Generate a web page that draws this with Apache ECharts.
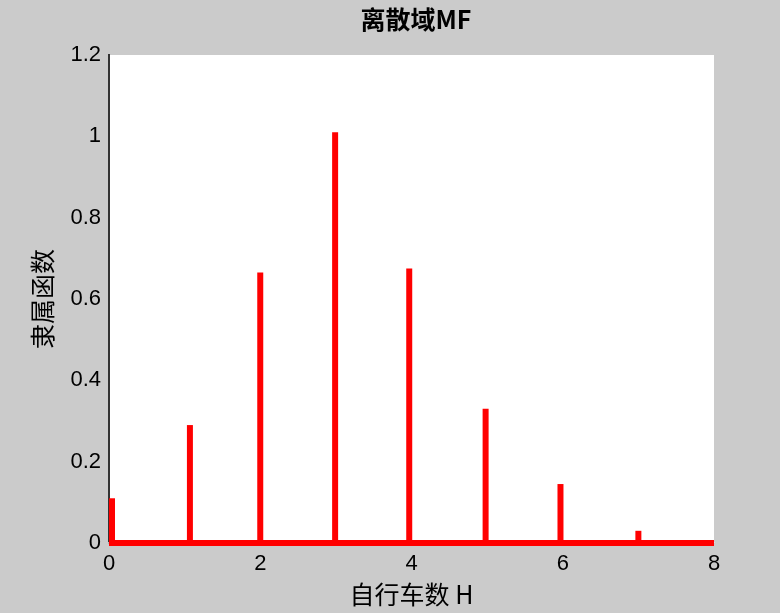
<!DOCTYPE html>
<html>
<head>
<meta charset="utf-8">
<script src="https://cdn.jsdelivr.net/npm/echarts@6/dist/echarts.min.js"></script>
<style>
html,body{margin:0;padding:0;background:#cbcbcb;}
#c{width:780px;height:613px;}
</style>
</head>
<body>
<div id="c"></div>
<script>
// Data
const titleText = '离散域MF';
const xName = '自行车数 H';
const yName = '隶属函数';
const stemX = [0.04, 1.07, 2.0, 2.99, 3.97, 4.98, 5.97, 7.0];
const stemY = [0.11, 0.29, 0.665, 1.01, 0.675, 0.33, 0.145, 0.03];
const baseX = [0, 8];
const baseY = [0, 0];
const xTicks = [0, 2, 4, 6, 8];
const yTicks = [0, 0.2, 0.4, 0.6, 0.8, 1, 1.2];

const chart = echarts.init(document.getElementById('c'));
const font = 'Liberation Sans, Arial, sans-serif';
const cjk = '"Noto Sans CJK SC", sans-serif';

chart.setOption({
  backgroundColor: '#cbcbcb',
  animation: false,
  title: {
    text: titleText,
    left: 411,
    textAlign: 'center',
    top: 2,
    textStyle: {fontFamily: cjk, fontSize: 25, fontWeight: 'bold', color: '#000'}
  },
  grid: {left: 109, right: 66, top: 55, bottom: 70, show: true, backgroundColor: '#ffffff', borderWidth: 0},
  xAxis: [{
    type: 'value', min: xTicks[0], max: xTicks[xTicks.length - 1], interval: 2,
    name: xName, nameLocation: 'middle', nameGap: 39,
    nameTextStyle: {fontFamily: cjk, fontSize: 25, color: '#000'},
    axisLine: {show: true, onZero: false, lineStyle: {color: '#000', width: 1}},
    axisTick: {show: false},
    axisLabel: {fontFamily: font, fontSize: 22, color: '#000', margin: 10},
    splitLine: {show: false}
  }, {
    type: 'value', position: 'top', min: 0, max: 8,
    axisLine: {show: true, lineStyle: {color: '#e4e4e4', width: 2}},
    axisTick: {show: false}, axisLabel: {show: false}, splitLine: {show: false}
  }],
  yAxis: [{
    type: 'value', min: yTicks[0], max: yTicks[yTicks.length - 1], interval: 0.2,
    name: yName, nameLocation: 'middle', nameGap: 54, nameRotate: 90,
    nameTextStyle: {fontFamily: cjk, fontSize: 25, color: '#000'},
    axisLine: {show: true, onZero: false, lineStyle: {color: '#000', width: 2}},
    axisTick: {show: false},
    axisLabel: {fontFamily: font, fontSize: 22, color: '#000', margin: 8,
      formatter: v => String(Math.round(v * 10) / 10)},
    splitLine: {show: false}
  }, {
    type: 'value', position: 'right', min: 0, max: 1.2,
    axisLine: {show: true, lineStyle: {color: '#333', width: 2}},
    axisTick: {show: false}, axisLabel: {show: false}, splitLine: {show: false}
  }],
  series: [{
    type: 'line',
    data: baseX.map((x, i) => [x, baseY[i]]),
    symbol: 'none',
    lineStyle: {color: '#ff0000', width: 6},
    z: 3
  }, {
    type: 'bar',
    data: stemX.map((x, i) => [x, stemY[i]]),
    barWidth: 6,
    itemStyle: {color: '#ff0000'},
    z: 4
  }]
});
</script>
</body>
</html>
